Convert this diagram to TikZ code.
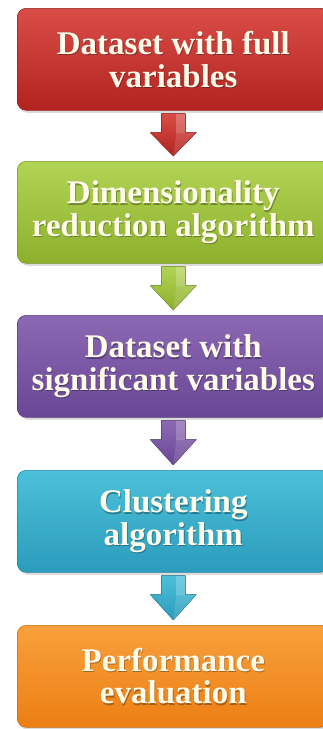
\documentclass[tikz,border=0pt]{standalone}
\usepackage{fontspec}
\setmainfont{Liberation Serif}
\usetikzlibrary{shadows,calc}

% stage palettes: light (top) and dark (bottom) tones
\definecolor{redL}{HTML}{DA4D47}
\definecolor{redD}{HTML}{B2231F}
\definecolor{grnL}{HTML}{B2D455}
\definecolor{grnD}{HTML}{8CB02C}
\definecolor{purL}{HTML}{8C68B4}
\definecolor{purD}{HTML}{6A4796}
\definecolor{tealL}{HTML}{4CC0DA}
\definecolor{tealD}{HTML}{2B9CBC}
\definecolor{orgL}{HTML}{F9A03C}
\definecolor{orgD}{HTML}{EC7F14}
\definecolor{cream}{HTML}{FFFCEB}

\tikzset{
  stage/.style n args={2}{
    rounded corners=9pt, anchor=north west, inner sep=0pt,
    minimum width=312pt, minimum height=102pt,
    top color=#1, bottom color=#2, draw=#2!85!black, line width=0.6pt,
    drop shadow={opacity=0.28, shadow xshift=1.5pt, shadow yshift=-2.5pt}
  },
  caption/.style={font=\fontsize{33}{32.5}\selectfont\bfseries,
    align=center, text=cream, inner sep=0pt},
  captionshadow/.style={caption, text=black, opacity=0.3}
}

% block arrow from the bottom of #1 to the top of #2, colours #3 (top) / #4 (bottom)
\newcommand{\flowarrow}[4]{%
  \coordinate (#1-a) at ($(#1.south)+(0,-3)$);
  \coordinate (#1-h) at ($(#1.south)+(0,-22)$);
  \coordinate (#1-t) at ($(#2.north)+(0,5)$);
  \fill[top color=#3, bottom color=#4, draw=#4!85!black, line width=0.4pt]
    ($(#1-a)+(-12,0)$) -- ($(#1-a)+(12,0)$) -- ($(#1-h)+(12,0)$) --
    ($(#1-h)+(23,0)$) -- (#1-t) -- ($(#1-h)+(-23,0)$) --
    ($(#1-h)+(-12,0)$) -- cycle;
  \fill[white, opacity=0.22]
    ($(#1-a)+(3,0)$) -- ($(#1-a)+(12,0)$) -- ($(#1-h)+(12,0)$) -- ($(#1-h)+(3,0)$) -- cycle;
  \fill[white, opacity=0.12]
    ($(#1-h)+(3,0)$) -- ($(#1-h)+(23,0)$) -- (#1-t) -- cycle;
}

\begin{document}
\begin{tikzpicture}[x=1pt,y=1pt]
  \useasboundingbox (0,0) rectangle (323,-729);
  \fill[white] (0,0) rectangle (323,-729);
  \clip (0,0) rectangle (323,-729);

  % the five stages
  \node[stage={redL}{redD}]   (b1) at (17,-8)   {};
  \node[stage={grnL}{grnD}]   (b2) at (17,-161) {};
  \node[stage={purL}{purD}]   (b3) at (17,-315) {};
  \node[stage={tealL}{tealD}] (b4) at (17,-470) {};
  \node[stage={orgL}{orgD}]   (b5) at (17,-625) {};

  % connecting arrows
  \flowarrow{b1}{b2}{redL}{redD}
  \flowarrow{b2}{b3}{grnL}{grnD}
  \flowarrow{b3}{b4}{purL}{purD}
  \flowarrow{b4}{b5}{tealL}{tealD}

  % captions with a soft shadow
  \node[captionshadow] (s1) at ($(b1.center)+(0.8,-1.3)$) {Dataset with full\\variables};
  \node[caption]       (t1) at (b1.center) {Dataset with full\\variables};
  \node[captionshadow] (s2) at ($(b2.center)+(0.8,-1.3)$) {Dimensionality\\reduction algorithm};
  \node[caption]       (t2) at (b2.center) {Dimensionality\\reduction algorithm};
  \node[captionshadow] (s3) at ($(b3.center)+(0.8,-1.3)$) {Dataset with\\significant variables};
  \node[caption]       (t3) at (b3.center) {Dataset with\\significant variables};
  \node[captionshadow] (s4) at ($(b4.center)+(0.8,-1.3)$) {Clustering\\algorithm};
  \node[caption]       (t4) at (b4.center) {Clustering\\algorithm};
  \node[captionshadow] (s5) at ($(b5.center)+(0.8,-1.3)$) {Performance\\evaluation};
  \node[caption]       (t5) at (b5.center) {Performance\\evaluation};
\end{tikzpicture}
\end{document}
